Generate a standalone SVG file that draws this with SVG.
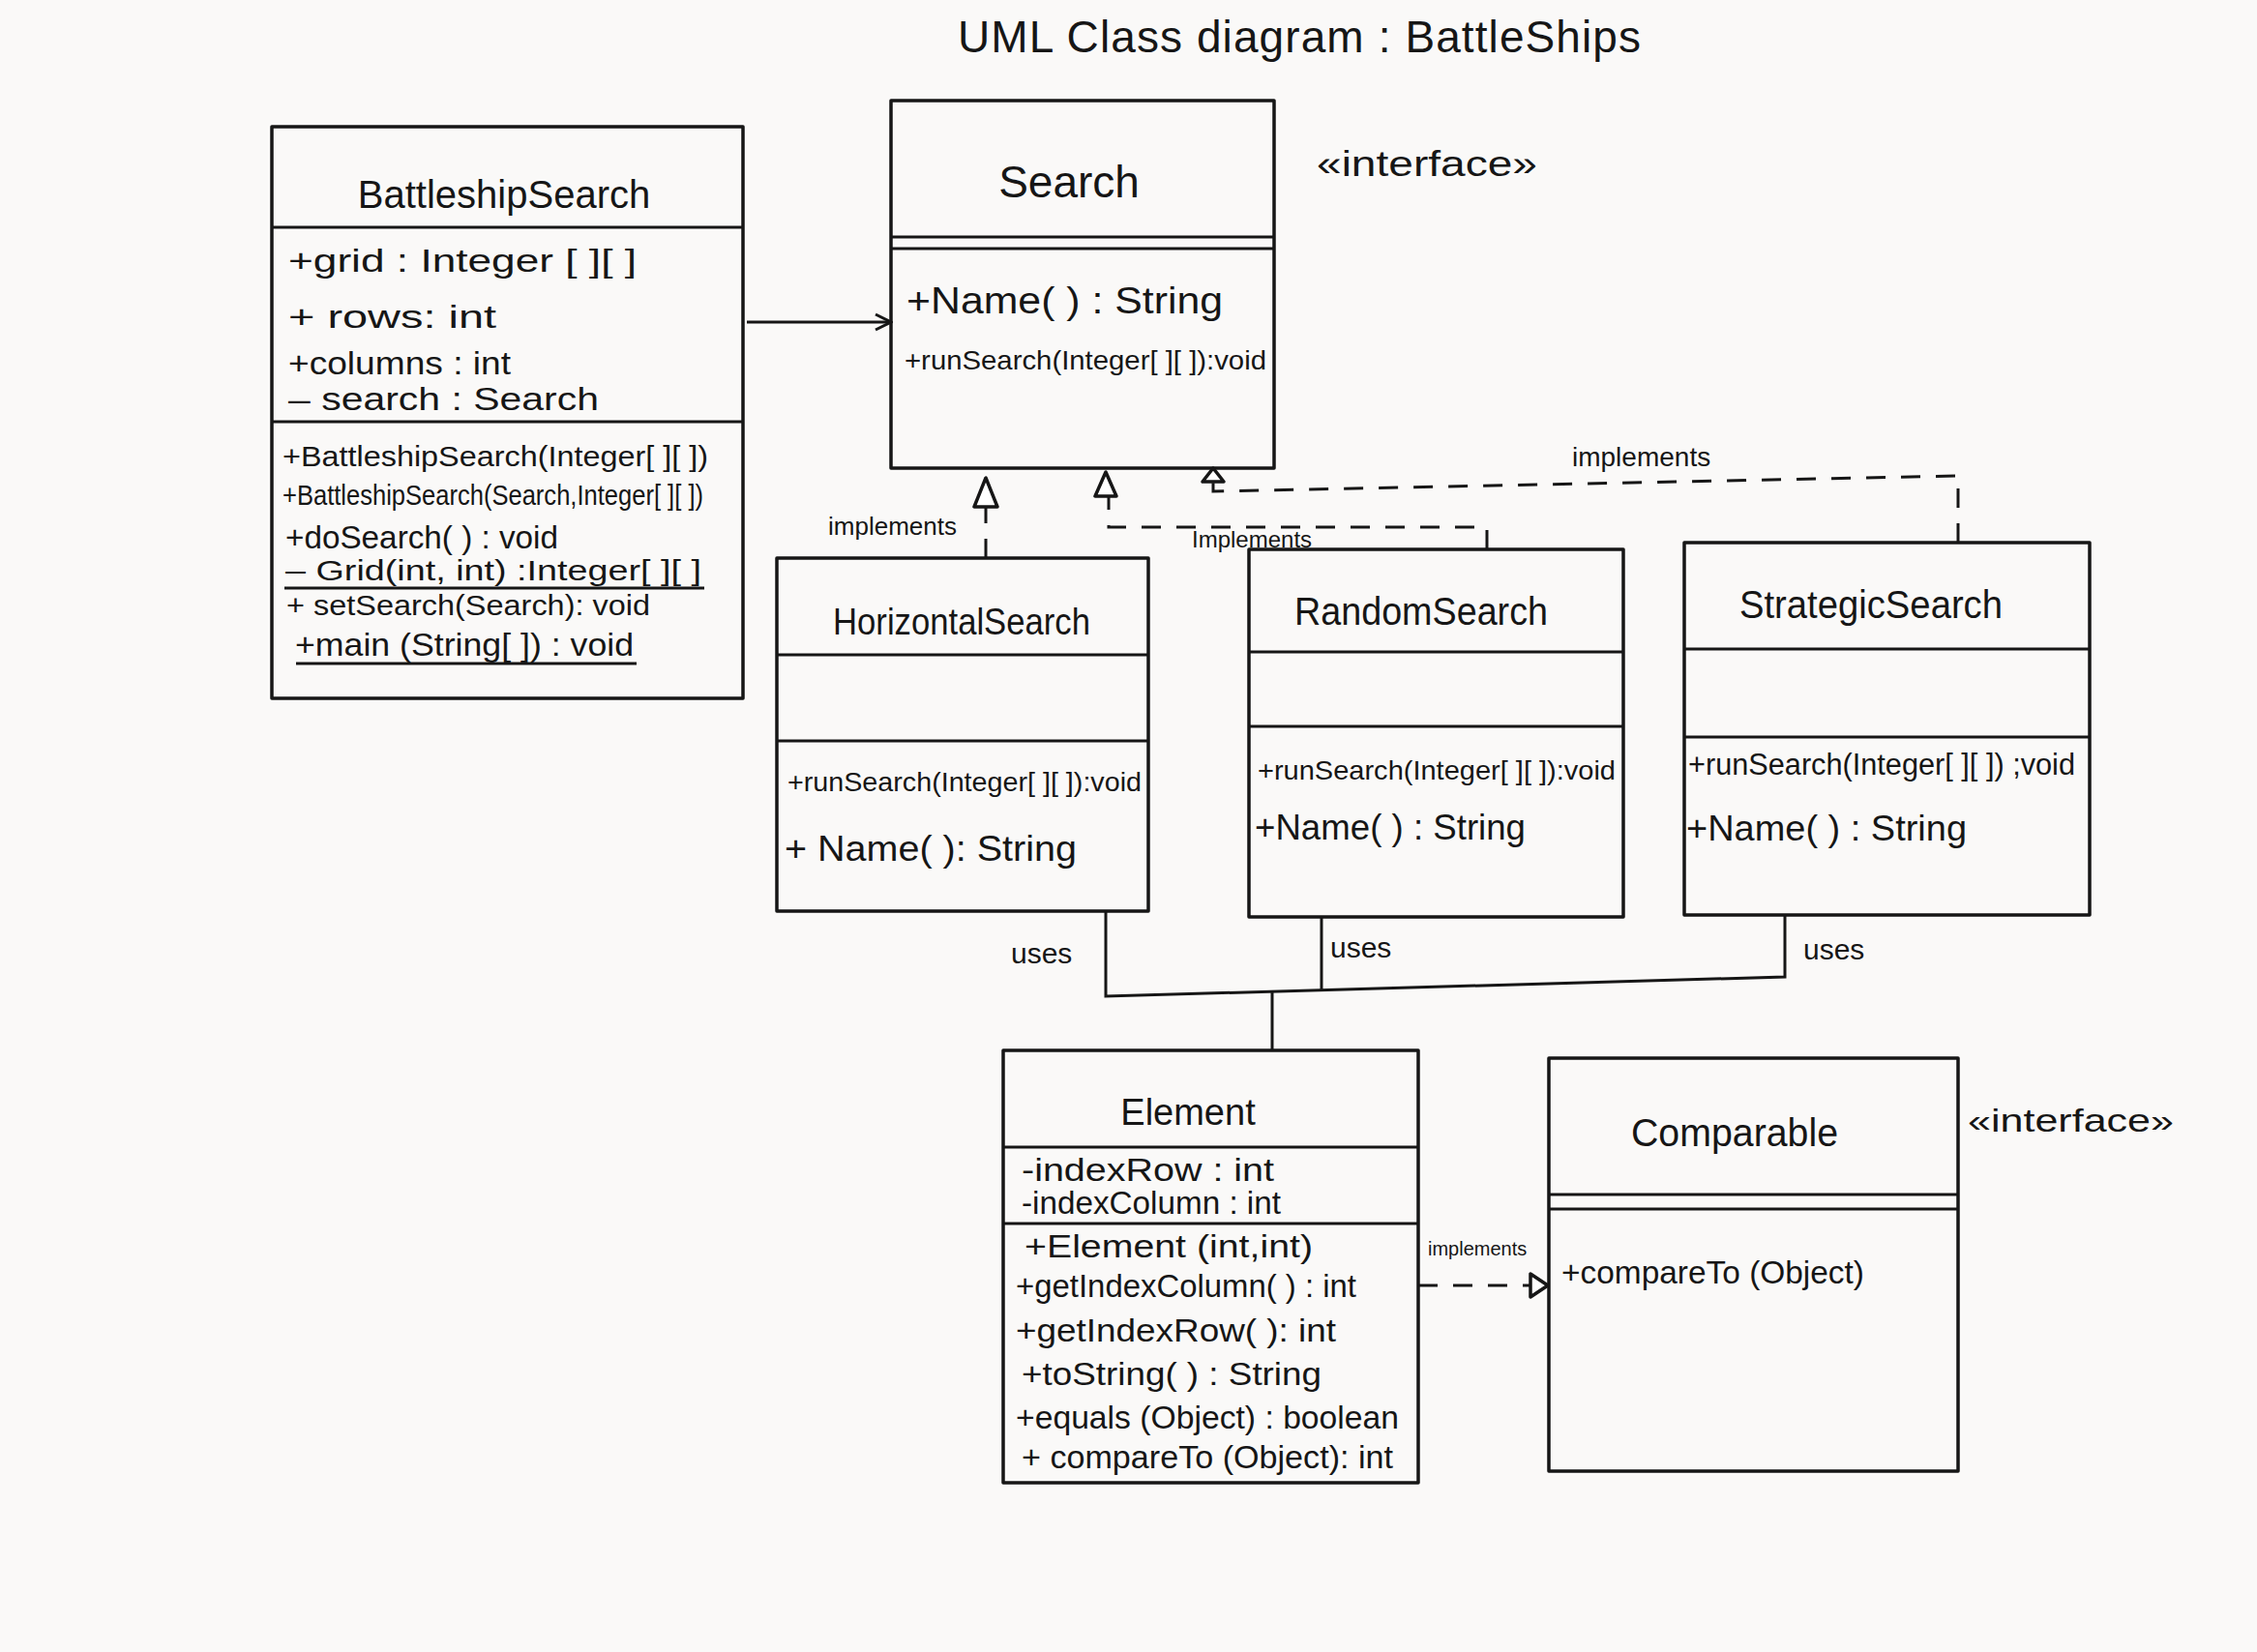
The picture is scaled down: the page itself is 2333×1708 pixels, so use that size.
<svg xmlns="http://www.w3.org/2000/svg" width="2333" height="1708" viewBox="0 0 2333 1708">
<style>
.bx{fill:none;stroke:#161616;stroke-width:3.5;stroke-linejoin:round}
.ln{fill:none;stroke:#161616;stroke-width:3}
.ds{fill:none;stroke:#161616;stroke-width:3;stroke-dasharray:20 16}
.t{font-family:"Liberation Sans",Arial,sans-serif;fill:#161616}
.h{font-size:40px;text-anchor:middle}
.a{font-size:34px}
.s{font-size:30px}
.lb{font-size:26px}
.tri{fill:#ffffff;stroke:#161616;stroke-width:3.5;stroke-linejoin:round}
</style>
<defs>
<marker id="open" viewBox="0 0 20 20" refX="18" refY="10" markerWidth="20" markerHeight="20" markerUnits="userSpaceOnUse" orient="auto">
<path d="M2,2 L18,10 L2,18" fill="none" stroke="#161616" stroke-width="3"/>
</marker>
</defs>
<rect width="2333" height="1708" fill="#faf9f8"/>

<text class="t" x="990" y="54" font-size="46" textLength="706" lengthAdjust="spacing">UML  Class  diagram   :  BattleShips</text>

<g id="BattleshipSearch">
<rect class="bx" x="281" y="131" width="487" height="591"/>
<line class="ln" x1="281" y1="235" x2="768" y2="235"/>
<line class="ln" x1="281" y1="436" x2="768" y2="436"/>
<text class="t h" x="521" y="215">BattleshipSearch</text>
<text class="t a" x="298" y="281" textLength="360" lengthAdjust="spacingAndGlyphs">+grid  : Integer [ ][ ]</text>
<text class="t a" x="298" y="339" textLength="215" lengthAdjust="spacingAndGlyphs">+ rows:  int</text>
<text class="t a" x="298" y="387" textLength="230" lengthAdjust="spacingAndGlyphs">+columns : int</text>
<text class="t a" x="298" y="424" textLength="321" lengthAdjust="spacingAndGlyphs">– search :  Search</text>
<text class="t s" x="292" y="482" textLength="440" lengthAdjust="spacingAndGlyphs">+BattleshipSearch(Integer[ ][ ])</text>
<text class="t s" x="292" y="522" textLength="435" lengthAdjust="spacingAndGlyphs">+BattleshipSearch(Search,Integer[ ][ ])</text>
<text class="t a" x="295" y="567" textLength="282" lengthAdjust="spacingAndGlyphs">+doSearch( )  : void</text>
<text class="t s" x="295" y="600" textLength="430" lengthAdjust="spacingAndGlyphs">– Grid(int, int) :Integer[ ][ ]</text>
<line class="ln" x1="294" y1="608" x2="728" y2="608"/>
<text class="t s" x="296" y="636" textLength="376" lengthAdjust="spacingAndGlyphs">+ setSearch(Search): void</text>
<text class="t a" x="305" y="678" textLength="350" lengthAdjust="spacingAndGlyphs">+main (String[ ]) : void</text>
<line class="ln" x1="306" y1="686" x2="658" y2="686"/>
</g>

<g id="Search">
<rect class="bx" x="921" y="104" width="396" height="380"/>
<line class="ln" x1="921" y1="245" x2="1317" y2="245"/>
<line class="ln" x1="921" y1="257" x2="1317" y2="257"/>
<text class="t" x="1105" y="204" font-size="46" text-anchor="middle">Search</text>
<text class="t" x="937" y="324" font-size="38" textLength="327" lengthAdjust="spacingAndGlyphs">+Name( ) : String</text>
<text class="t" x="935" y="382" font-size="28" textLength="374" lengthAdjust="spacingAndGlyphs">+runSearch(Integer[ ][ ]):void</text>
<text class="t" x="1361" y="182" font-size="36" textLength="228" lengthAdjust="spacingAndGlyphs">«interface»</text>
</g>

<g id="HorizontalSearch">
<rect class="bx" x="803" y="577" width="384" height="365"/>
<line class="ln" x1="803" y1="677" x2="1187" y2="677"/>
<line class="ln" x1="803" y1="766" x2="1187" y2="766"/>
<text class="t" x="994" y="656" font-size="38" text-anchor="middle" textLength="266" lengthAdjust="spacingAndGlyphs">HorizontalSearch</text>
<text class="t" x="814" y="818" font-size="28" textLength="366" lengthAdjust="spacingAndGlyphs">+runSearch(Integer[ ][ ]):void</text>
<text class="t" x="811" y="890" font-size="36" textLength="302" lengthAdjust="spacingAndGlyphs">+ Name( ):  String</text>
</g>

<g id="RandomSearch">
<rect class="bx" x="1291" y="568" width="387" height="380"/>
<line class="ln" x1="1291" y1="674" x2="1678" y2="674"/>
<line class="ln" x1="1291" y1="751" x2="1678" y2="751"/>
<text class="t" x="1469" y="646" font-size="40" text-anchor="middle" textLength="262" lengthAdjust="spacingAndGlyphs">RandomSearch</text>
<text class="t" x="1300" y="806" font-size="28" textLength="370" lengthAdjust="spacingAndGlyphs">+runSearch(Integer[ ][ ]):void</text>
<text class="t" x="1297" y="868" font-size="36" textLength="280" lengthAdjust="spacingAndGlyphs">+Name( ) : String</text>
</g>

<g id="StrategicSearch">
<rect class="bx" x="1741" y="561" width="419" height="385"/>
<line class="ln" x1="1741" y1="671" x2="2160" y2="671"/>
<line class="ln" x1="1741" y1="762" x2="2160" y2="762"/>
<text class="t" x="1934" y="639" font-size="40" text-anchor="middle" textLength="272" lengthAdjust="spacingAndGlyphs">StrategicSearch</text>
<text class="t" x="1745" y="801" font-size="31" textLength="400" lengthAdjust="spacingAndGlyphs">+runSearch(Integer[ ][ ]) ;void</text>
<text class="t" x="1743" y="869" font-size="36" textLength="290" lengthAdjust="spacingAndGlyphs">+Name( ) :  String</text>
</g>

<g id="Element">
<rect class="bx" x="1037" y="1086" width="429" height="447"/>
<line class="ln" x1="1037" y1="1186" x2="1466" y2="1186"/>
<line class="ln" x1="1037" y1="1265" x2="1466" y2="1265"/>
<text class="t" x="1228" y="1163" font-size="38" text-anchor="middle">Element</text>
<text class="t a" x="1056" y="1221" textLength="261" lengthAdjust="spacingAndGlyphs">-indexRow  : int</text>
<text class="t a" x="1056" y="1255" textLength="268" lengthAdjust="spacingAndGlyphs">-indexColumn : int</text>
<text class="t a" x="1059" y="1300" textLength="298" lengthAdjust="spacingAndGlyphs">+Element (int,int)</text>
<text class="t a" x="1050" y="1341" textLength="352" lengthAdjust="spacingAndGlyphs">+getIndexColumn( ) : int</text>
<text class="t a" x="1050" y="1387" textLength="331" lengthAdjust="spacingAndGlyphs">+getIndexRow( ): int</text>
<text class="t a" x="1056" y="1432" textLength="310" lengthAdjust="spacingAndGlyphs">+toString( ) : String</text>
<text class="t a" x="1050" y="1477" textLength="396" lengthAdjust="spacingAndGlyphs">+equals (Object) : boolean</text>
<text class="t a" x="1056" y="1518" textLength="384" lengthAdjust="spacingAndGlyphs">+ compareTo (Object): int</text>
</g>

<g id="Comparable">
<rect class="bx" x="1601" y="1094" width="423" height="427"/>
<line class="ln" x1="1601" y1="1235" x2="2024" y2="1235"/>
<line class="ln" x1="1601" y1="1250" x2="2024" y2="1250"/>
<text class="t" x="1793" y="1185" font-size="40" text-anchor="middle" textLength="214" lengthAdjust="spacingAndGlyphs">Comparable</text>
<text class="t" x="1614" y="1327" font-size="34" textLength="313" lengthAdjust="spacingAndGlyphs">+compareTo (Object)</text>
<text class="t" x="2034" y="1170" font-size="34" textLength="213" lengthAdjust="spacingAndGlyphs">«interface»</text>
</g>

<g id="connectors">
<line class="ln" x1="772" y1="333" x2="921" y2="333" marker-end="url(#open)"/>

<line class="ds" x1="1019" y1="577" x2="1019" y2="524"/>
<polygon class="tri" points="1019,494 1007,524 1031,524"/>
<text class="t lb" x="856" y="553">implements</text>

<polyline class="ds" points="1537,568 1537,545 1146,545 1146,513"/>
<polygon class="tri" points="1143,488 1132,513 1154,513"/>
<text class="t" x="1232" y="566" font-size="24">Implements</text>

<polyline class="ds" points="2024,561 2024,492 1254,508 1254,498"/>
<polygon class="tri" points="1254,484 1243,498 1265,498"/>
<text class="t" x="1625" y="482" font-size="28">implements</text>

<polyline class="ln" points="1143,942 1143,1030 1845,1010 1845,946"/>
<line class="ln" x1="1366" y1="948" x2="1366" y2="1024"/>
<line class="ln" x1="1315" y1="1024" x2="1315" y2="1086"/>
<text class="t" x="1045" y="996" font-size="30">uses</text>
<text class="t" x="1375" y="990" font-size="30">uses</text>
<text class="t" x="1864" y="992" font-size="30">uses</text>

<line class="ds" x1="1466" y1="1329" x2="1582" y2="1329" stroke-dasharray="12 10"/>
<polygon class="tri" points="1600,1329 1582,1317 1582,1341"/>
<text class="t" x="1476" y="1298" font-size="20">implements</text>
</g>
</svg>
